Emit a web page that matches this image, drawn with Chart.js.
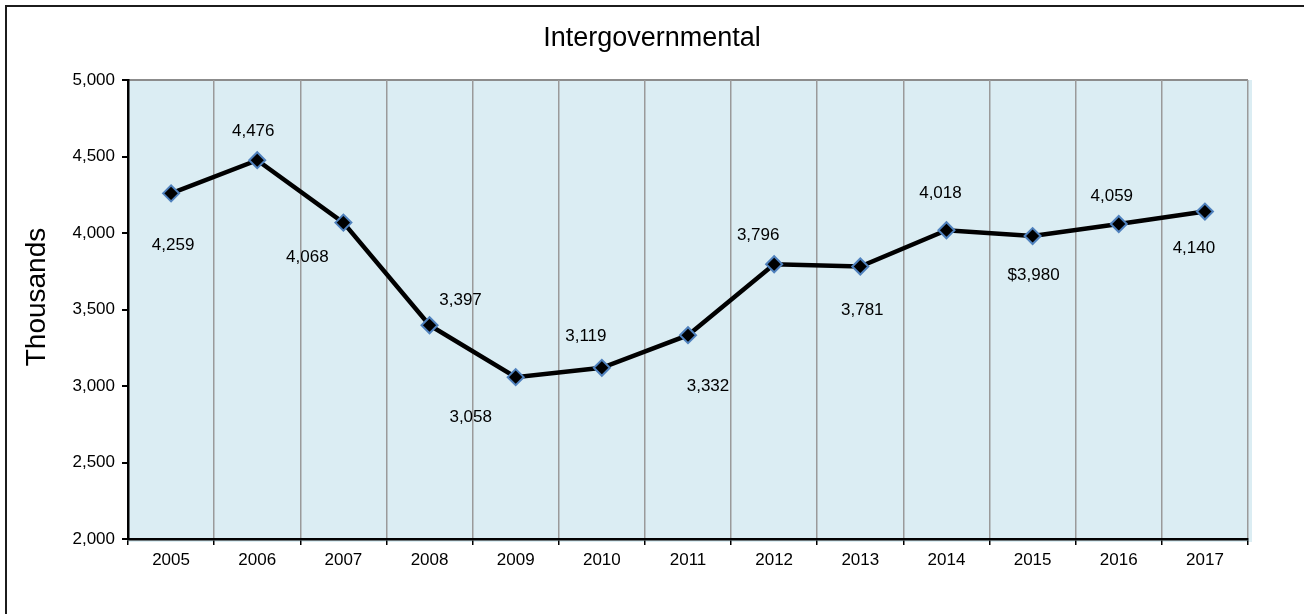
<!DOCTYPE html>
<html>
<head>
<meta charset="utf-8">
<title>Intergovernmental</title>
<script src="https://cdn.jsdelivr.net/npm/chart.js"></script>
<style>
    html, body {
        margin: 0;
        padding: 0;
        background: #fff;
        overflow: hidden;
    }
    #marco {
        position: absolute;
        left: 5px;
        top: 5px;
        width: 1400px;
        height: 700px;
        border-left: 2px solid #1c1c1c;
        border-top: 2px solid #1c1c1c;
    }
    #contenedor {
        position: absolute;
        left: 0;
        top: 0;
        width: 1304px;
        height: 614px;
    }
</style>
</head>
<body>
<div id="marco"></div>
<div id="contenedor">
    <canvas id="grafico-intergov"></canvas>
</div>
<script>
// years on the x axis
const years = ['2005', '2006', '2007', '2008', '2009', '2010', '2011', '2012', '2013', '2014', '2015', '2016', '2017'];
// revenue, thousands
const revenue = [4259, 4476, 4068, 3397, 3058, 3119, 3332, 3796, 3781, 4018, 3980, 4059, 4140];
// prefix shown before each point label
const labelPrefix = ['', '', '', '', '', '', '', '', '', '', '$', '', ''];
// y axis range
const yTicks = [2000, 2500, 3000, 3500, 4000, 4500, 5000];

const chartTitle = 'Intergovernmental';
const yAxisTitle = 'Thousands';

// where each value label sits relative to its point (px)
const labelOffsets = [
    [2, 52], [-4, -29], [-36, 35], [31, -25], [-45, 40], [-16, -31], [20, 51],
    [-16, -29], [2, 44], [-6, -37], [1, 39], [-7, -28], [-11, 37]
];

const FONT = "'Liberation Sans', Arial, sans-serif";

// light blue plot background plus the grey top edge
const fondoPlot = {
    id: 'fondoPlot',
    beforeDraw(chart) {
        const { ctx, chartArea } = chart;
        ctx.save();
        ctx.fillStyle = '#dbedf3';
        ctx.fillRect(chartArea.left, chartArea.top, chartArea.right - chartArea.left + 4, chartArea.bottom - chartArea.top + 3);
        ctx.strokeStyle = '#8c8c8c';
        ctx.lineWidth = 2;
        ctx.beginPath();
        ctx.moveTo(chartArea.left, chartArea.top);
        ctx.lineTo(chartArea.right, chartArea.top);
        ctx.stroke();
        ctx.restore();
    }
};

// chart title centred on the whole canvas, axis title beside the y ticks
const titulos = {
    id: 'titulos',
    afterDraw(chart) {
        const { ctx, width } = chart;
        ctx.save();
        ctx.fillStyle = '#000';
        ctx.textAlign = 'center';
        ctx.textBaseline = 'middle';
        ctx.font = '27px ' + FONT;
        ctx.fillText(chartTitle, width / 2, 39);

        ctx.translate(37, 297);
        ctx.rotate(-Math.PI / 2);
        ctx.font = '28px ' + FONT;
        ctx.fillText(yAxisTitle, 0, 0);
        ctx.restore();
    }
};

// value labels next to each point
const etiquetasValores = {
    id: 'etiquetasValores',
    afterDatasetsDraw(chart) {
        const { ctx } = chart;
        const meta = chart.getDatasetMeta(0);
        ctx.save();
        ctx.font = '17px ' + FONT;
        ctx.fillStyle = '#000';
        ctx.textAlign = 'center';
        ctx.textBaseline = 'middle';
        meta.data.forEach((pt, i) => {
            const texto = labelPrefix[i] + revenue[i].toLocaleString('en-US');
            ctx.fillText(texto, pt.x + labelOffsets[i][0], pt.y + labelOffsets[i][1]);
        });
        ctx.restore();
    }
};

function dibujarGrafico() {
    const ctx = document.getElementById('grafico-intergov');

    new Chart(ctx, {
        type: 'line',
        data: {
            labels: years,
            datasets: [{
                label: chartTitle,
                data: revenue,
                borderColor: '#000',
                borderWidth: 4.5,
                pointStyle: 'rectRot',
                pointRadius: 8,
                pointBackgroundColor: '#000',
                pointBorderColor: '#4f81bd',
                pointBorderWidth: 2,
                tension: 0
            }]
        },
        options: {
            responsive: true,
            maintainAspectRatio: false,
            animation: false,
            layout: {
                padding: { left: 0, right: 56, top: 80, bottom: 0 }
            },
            plugins: {
                legend: { display: false },
                tooltip: { enabled: false },
                title: { display: false }
            },
            scales: {
                x: {
                    offset: true,
                    afterFit: scale => { scale.height = 75; },
                    grid: {
                        offset: true,
                        color: '#9a9a9a',
                        lineWidth: 1.5,
                        tickColor: '#000',
                        tickLength: 6
                    },
                    border: { color: '#000', width: 2.5 },
                    ticks: {
                        color: '#000',
                        padding: 5,
                        font: { family: FONT, size: 17 }
                    }
                },
                y: {
                    min: 2000,
                    max: 5000,
                    afterFit: scale => { scale.width = 128; },
                    afterBuildTicks: scale => {
                        scale.ticks = yTicks.map(v => ({ value: v }));
                    },
                    grid: {
                        drawOnChartArea: false,
                        tickColor: '#000',
                        tickLength: 6,
                        lineWidth: 2
                    },
                    border: { color: '#000', width: 2.5 },
                    ticks: {
                        color: '#000',
                        padding: 7,
                        font: { family: FONT, size: 17 },
                        callback: v => v.toLocaleString('en-US')
                    }
                }
            }
        },
        plugins: [fondoPlot, etiquetasValores, titulos]
    });
}

document.addEventListener('DOMContentLoaded', dibujarGrafico);
</script>
</body>
</html>
